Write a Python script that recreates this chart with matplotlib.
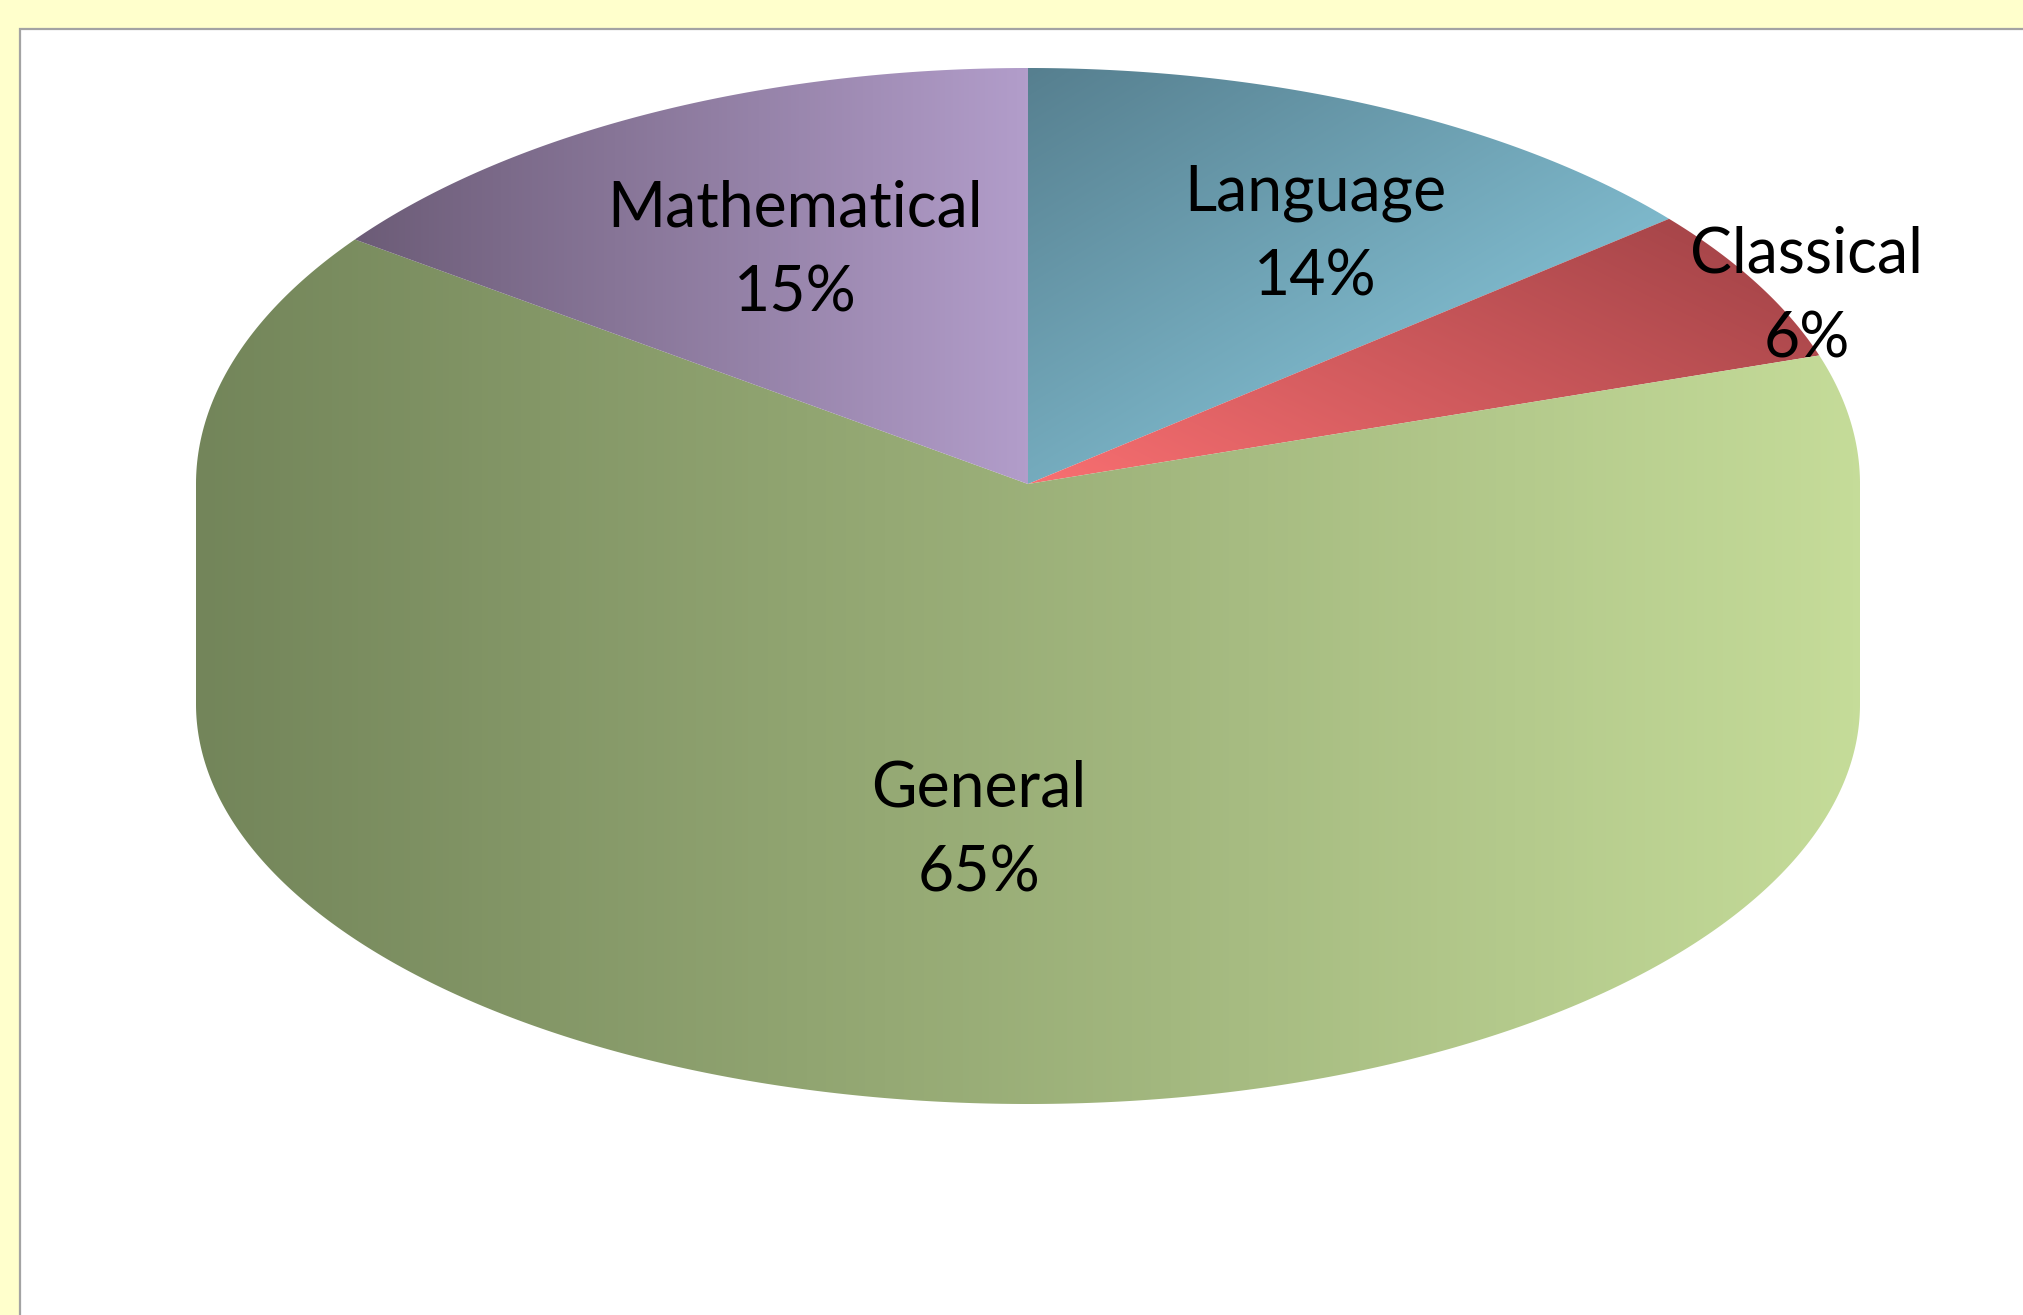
import numpy as np
import matplotlib
matplotlib.use("Agg")
import matplotlib.pyplot as plt
from matplotlib.colors import LinearSegmentedColormap
from matplotlib.patches import PathPatch, Rectangle
from matplotlib.path import Path

plt.rcParams["font.family"] = ["Lato", "DejaVu Sans"]

categories = ["Language", "Classical", "General", "Mathematical"]
shares = [14, 6, 65, 15]

# Pie geometry, in canvas pixels
W, H = 2023, 1315
CX, CY = 1028, 484
RX, RY = 832, 416
BASE_DROP, BASE_RY = 220, 400

# Each slice: dark/light colours and the line along which the gradient runs
shades = {
    "Language": ("#567f8f", "#7fbacd", (1028, 68), (1273, 474)),
    "Classical": ("#a8464a", "#f96f71", (1254, 19), (1028, 484)),
    "General": ("#73855a", "#c5dc99", (196, 0), (1860, 0)),
    "Mathematical": ("#6b5b76", "#b29dca", (346, 0), (1028, 0)),
}
label_xy = {
    "Language": (1315, 235),
    "Classical": (1807, 297),
    "General": (979, 831),
    "Mathematical": (795, 251),
}


def rim(t):
    """Point on the pie's top rim; t is clockwise from twelve o'clock."""
    return np.column_stack([CX + RX * np.sin(t), CY - RY * np.cos(t)])


def base(t):
    """Point on the lower edge of the side wall."""
    return np.column_stack([CX + RX * np.sin(t), CY + BASE_DROP - BASE_RY * np.cos(t)])


fig = plt.figure(figsize=(W / 100, H / 100), dpi=100, facecolor="#ffffcc")
ax = fig.add_axes([0, 0, 1, 1])
ax.set_xlim(0, W)
ax.set_ylim(H, 0)
ax.axis("off")

ax.add_patch(Rectangle((20, 28.5), W + 20, H + 20, facecolor="white",
                       edgecolor="#a3a3a3", linewidth=1.6, zorder=1))

gx, gy = np.meshgrid(np.arange(W) + 0.5, np.arange(H) + 0.5)


def gradient_fill(verts, dark, light, p0, p1, zorder):
    """Paint a polygon with a linear gradient from p0 to p1."""
    d = np.array(p1, float) - np.array(p0, float)
    frac = ((gx - p0[0]) * d[0] + (gy - p0[1]) * d[1]) / (d @ d)
    cmap = LinearSegmentedColormap.from_list("slice", [dark, light])
    im = ax.imshow(np.clip(frac, 0, 1), cmap=cmap, vmin=0, vmax=1,
                   extent=(0, W, H, 0), interpolation="bilinear",
                   aspect="auto", zorder=zorder)
    patch = PathPatch(Path(np.vstack([verts, verts[:1]]), closed=True),
                      transform=ax.transData, facecolor="none", edgecolor="none")
    ax.add_patch(patch)
    im.set_clip_path(patch)


edges = np.deg2rad(np.cumsum([0] + shares) / sum(shares) * 360.0)
for name, t0, t1 in zip(categories, edges[:-1], edges[1:]):
    dark, light, p0, p1 = shades[name]
    if t0 < np.pi / 2 and t1 > 3 * np.pi / 2:
        # The slice crossing the front of the pie runs down over the side wall
        outline = np.vstack([
            [[CX, CY]],
            rim(np.linspace(t0, np.pi / 2, 60)),
            base(np.linspace(np.pi / 2, 3 * np.pi / 2, 360)),
            rim(np.linspace(3 * np.pi / 2, t1, 60)),
        ])
    else:
        outline = np.vstack([[[CX, CY]], rim(np.linspace(t0, t1, 240))])
    gradient_fill(outline, dark, light, p0, p1, 3)

for name, value in zip(categories, shares):
    x, y = label_xy[name]
    ax.text(x, y, f"{name}\n{value}%", ha="center", va="center", color="black",
            fontsize=45, linespacing=1.56, zorder=5)

fig.savefig("out.png", dpi=100, facecolor=fig.get_facecolor())
